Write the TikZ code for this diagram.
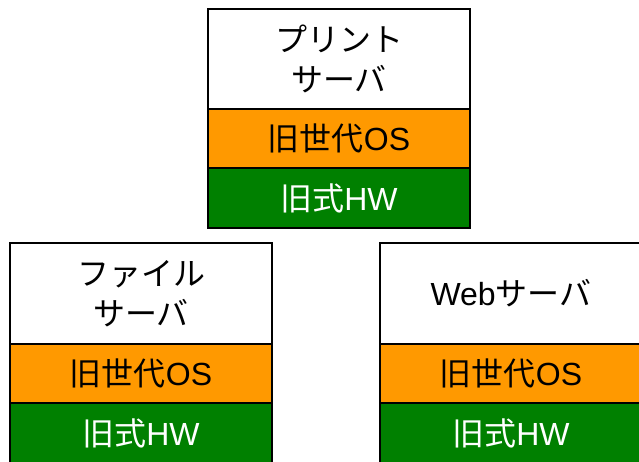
\documentclass[tikz,border=0pt]{standalone}
\usepackage{fontspec}
\newfontfamily\jp{Noto Sans CJK JP}
\newfontfamily\lat{Liberation Sans}
\definecolor{osorange}{RGB}{255,153,0}
\definecolor{hwgreen}{RGB}{0,128,0}
\begin{document}
\begin{tikzpicture}[x=1pt,y=-1pt,
  layer/.style={draw=black, line width=2pt, minimum width=262pt, inner sep=0pt,
    font=\jp\fontsize{32}{40}\selectfont, align=center},
  appbox/.style={layer, fill=white, text=black},
  osbox/.style={layer, fill=osorange, text=black, minimum height=59pt},
  hwbox/.style={layer, fill=hwgreen, text=white, minimum height=60pt}]
\useasboundingbox (0,0) rectangle (639,462);
\clip (0,0) rectangle (639,462);
% top stack: print server
\node[appbox, minimum height=100pt] (papp) at (339,59) {プリント\\サーバ};
\node[osbox] (pos) at (339,138.5) {旧世代{\lat OS}};
\node[hwbox] (phw) at (339,198) {旧式{\lat HW}};
% bottom left: file server
\node[appbox, minimum height=101pt] (fapp) at (141,293.5) {ファイル\\サーバ};
\node[osbox] (fos) at (141,373.5) {旧世代{\lat OS}};
\node[hwbox] (fhw) at (141,433) {旧式{\lat HW}};
% bottom right: web server
\node[appbox, minimum height=101pt] (wapp) at (511,293.5) {{\lat Web}サーバ};
\node[osbox] (wos) at (511,373.5) {旧世代{\lat OS}};
\node[hwbox] (whw) at (511,433) {旧式{\lat HW}};
\end{tikzpicture}
\end{document}
